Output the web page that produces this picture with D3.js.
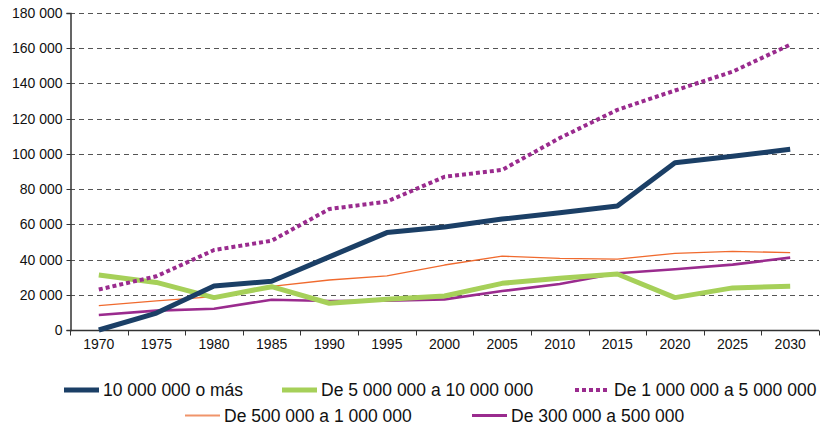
<!DOCTYPE html>
<html>
<head>
<meta charset="utf-8">
<script src="https://cdn.jsdelivr.net/npm/d3@7"></script>
<style>
  html, body { margin: 0; padding: 0; background: #fff; }
  svg { display: block; }
  .tick-label { font-family: "Liberation Sans", Arial, sans-serif; font-size: 14px; fill: #111; }
  .legend-label { font-family: "Liberation Sans", Arial, sans-serif; font-size: 17.5px; fill: #111; }
</style>
</head>
<body>
<svg id="chart" width="823" height="428"></svg>
<script>
// Years on the category axis
const years = ["1970","1975","1980","1985","1990","1995","2000","2005","2010","2015","2020","2025","2030"];

// Population by city-size class
const over10M   = [0, 9600, 25000, 27700, 41500, 55300, 58500, 63000, 66600, 70400, 95000, 98700, 102600];
const from5to10M = [31200, 27000, 18400, 24600, 15200, 17400, 19300, 26500, 29400, 31800, 18400, 23900, 24800];
const from1to5M  = [23000, 30500, 45400, 50700, 68700, 72900, 87000, 90900, 109000, 125000, 136000, 146700, 162000];
const from500kto1M = [13800, 16500, 18900, 24800, 28400, 30700, 36900, 41900, 40700, 40300, 43500, 44700, 43900];
const from300kto500k = [8500, 11000, 12100, 17200, 16500, 16600, 17400, 22100, 26100, 32200, 34500, 37100, 41100];

const seriesNames = ["10 000 000 o más", "De 5 000 000 a 10 000 000", "De 1 000 000 a 5 000 000", "De 500 000 a 1 000 000", "De 300 000 a 500 000"];

const yTicks = [0, 20000, 40000, 60000, 80000, 100000, 120000, 140000, 160000, 180000];

const series = [
  { name: seriesNames[0], values: over10M,        color: "#1b3f66", width: 5,   dash: null,  legendColor: "#1b3f66", legendWidth: 5 },
  { name: seriesNames[1], values: from5to10M,     color: "#a6d059", width: 5,   dash: null,  legendColor: "#a6d059", legendWidth: 5 },
  { name: seriesNames[2], values: from1to5M,      color: "#9a2b8e", width: 4,   dash: "4,3", legendColor: "#9a2b8e", legendWidth: 4 },
  { name: seriesNames[3], values: from500kto1M,   color: "#f06a2e", width: 1.3, dash: null,  legendColor: "#f0946a", legendWidth: 2 },
  { name: seriesNames[4], values: from300kto500k, color: "#9a2b8e", width: 2.6, dash: null,  legendColor: "#9a2b8e", legendWidth: 3 }
];

const svg = d3.select("#chart");
const plotLeft = 70, plotRight = 819, plotTop = 13, plotBottom = 330;

const x = d3.scaleBand().domain(years).range([plotLeft, plotRight]).padding(0);
const y = d3.scaleLinear().domain([0, 180000]).range([plotBottom, plotTop]);

const fmt = v => d3.format(",")(v).replace(/,/g, " ");

// Horizontal dashed gridlines
svg.append("g")
  .selectAll("line")
  .data(yTicks.filter(d => d > 0))
  .join("line")
  .attr("x1", plotLeft).attr("x2", plotRight)
  .attr("y1", d => Math.round(y(d)) + 0.5).attr("y2", d => Math.round(y(d)) + 0.5)
  .attr("stroke", "#555")
  .attr("stroke-width", 1)
  .attr("stroke-dasharray", "5,4");

// Y axis
const yAxis = d3.axisLeft(y).tickValues(yTicks).tickSize(4).tickPadding(4).tickFormat(fmt);
const gy = svg.append("g").attr("transform", `translate(${plotLeft + 0.5},0)`).call(yAxis);
gy.select(".domain").attr("stroke", "#333").attr("stroke-width", 1.5);
gy.selectAll(".tick line").attr("stroke", "#333");
gy.selectAll(".tick text").attr("class", "tick-label");
gy.attr("font-size", null).attr("font-family", null);
gy.selectAll(".tick").attr("transform", d => `translate(0,${Math.round(y(d)) + 0.5})`);

// X axis with ticks on category boundaries
const gx = svg.append("g").attr("transform", `translate(0,${plotBottom + 0.5})`);
gx.append("line").attr("x1", plotLeft).attr("x2", plotRight).attr("stroke", "#333").attr("stroke-width", 1.5);
const edges = years.map(d => x(d)).concat([x(years[years.length - 1]) + x.bandwidth()]);
gx.selectAll("line.edge").data(edges).join("line").attr("class", "edge")
  .attr("x1", d => Math.round(d) + 0.5).attr("x2", d => Math.round(d) + 0.5)
  .attr("y1", 0).attr("y2", 5).attr("stroke", "#333");
gx.selectAll("text").data(years).join("text")
  .attr("class", "tick-label")
  .attr("x", d => x(d) + x.bandwidth() / 2)
  .attr("y", 18)
  .attr("text-anchor", "middle")
  .text(d => d);

// Series lines
const line = d3.line()
  .x((d, i) => x(years[i]) + x.bandwidth() / 2)
  .y(d => y(d));

const drawOrder = [3, 4, 1, 0, 2];
svg.append("g")
  .selectAll("path")
  .data(drawOrder.map(i => series[i]))
  .join("path")
  .attr("d", s => line(s.values))
  .attr("fill", "none")
  .attr("stroke", s => s.color)
  .attr("stroke-width", s => s.width)
  .attr("stroke-dasharray", s => s.dash)
  .attr("stroke-linejoin", "round");

// Legend: two centred rows
const legendPos = [
  { x: 64,  y: 390 },
  { x: 282, y: 390 },
  { x: 575, y: 390 },
  { x: 185, y: 415.5 },
  { x: 472, y: 415.5 }
];
const lg = svg.append("g").selectAll("g").data(series).join("g")
  .attr("transform", (s, i) => `translate(${legendPos[i].x},${legendPos[i].y})`);
lg.append("line")
  .attr("x1", 0).attr("x2", 35)
  .attr("y1", 0).attr("y2", 0)
  .attr("stroke", s => s.legendColor)
  .attr("stroke-width", s => s.legendWidth)
  .attr("stroke-dasharray", s => s.dash);
lg.append("text")
  .attr("class", "legend-label")
  .attr("x", 39)
  .attr("y", 6)
  .text(s => s.name);
</script>
</body>
</html>
